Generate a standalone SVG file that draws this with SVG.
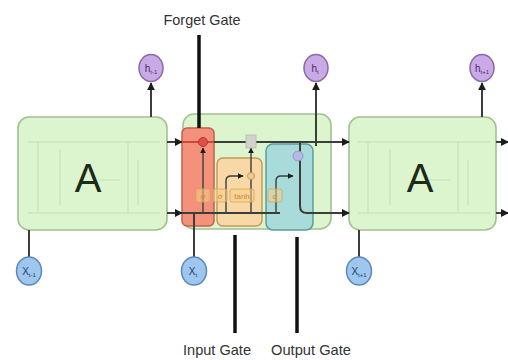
<svg xmlns="http://www.w3.org/2000/svg" width="508" height="360" viewBox="0 0 508 360">
<style>
.cell{fill:#dcf5cf;stroke:#a3c093;stroke-width:1.6}
.ghost{fill:none;stroke:#c3ddb4;stroke-width:1}
.bigA{font-family:"Liberation Sans",Arial,sans-serif;font-size:40px;fill:#1d2a1a;text-anchor:middle}
.lbl{font-family:"Liberation Sans",Arial,sans-serif;font-size:15px;fill:#333;text-anchor:middle}
.hc{fill:#c9aae6;stroke:#8a6aa8;stroke-width:1.5}
.xc{fill:#9ec6ee;stroke:#5b89ba;stroke-width:1.5}
.sym{font-family:"Liberation Sans",Arial,sans-serif;font-size:10px;text-anchor:middle}
.line{fill:none;stroke:#3a3f3a;stroke-width:2}
.thin{fill:none;stroke:#3a3f3a;stroke-width:1.4}
.thick{fill:none;stroke:#111;stroke-width:3.5}
.sg{fill:#f6cf86;fill-opacity:0.55;stroke:#d9a45a;stroke-width:0.8}
.sgt{font-family:"Liberation Sans",Arial,sans-serif;font-size:8px;fill:#d4862f;text-anchor:middle}
</style>
<defs>
<marker id="ah" viewBox="0 0 10 10" refX="9" refY="5" markerWidth="8" markerHeight="8" markerUnits="userSpaceOnUse" orient="auto"><path d="M0,0 L10,5 L0,10 z" fill="#1c1c1c"/></marker>
<marker id="ahs" viewBox="0 0 10 10" refX="9" refY="5" markerWidth="6" markerHeight="6" markerUnits="userSpaceOnUse" orient="auto"><path d="M0,0 L10,5 L0,10 z" fill="#1c1c1c"/></marker>
</defs>
<rect width="508" height="360" fill="#ffffff"/>

<g id="cell-prev">
<rect class="cell" x="18" y="117" width="149" height="113" rx="11"/>
<path class="ghost" d="M28,142 H160 M38,142 V213 M28,213 H160 M128,142 V213 M138,160 V205 M60,150 V205 M100,180 H120"/>
<text class="bigA" x="88" y="192">A</text>
</g>

<g id="cell-cur">
<rect class="cell" x="183" y="114" width="148" height="115" rx="11"/>
</g>

<g id="cell-next">
<rect class="cell" x="349" y="117" width="147" height="113" rx="11"/>
<path class="ghost" d="M358,142 H490 M368,142 V213 M358,213 H490 M458,142 V213 M468,160 V205 M390,150 V205 M430,180 H450"/>
<text class="bigA" x="420" y="192">A</text>
</g>

<g id="gate-forget">
<rect x="182" y="128" width="32" height="98" rx="5" fill="#f4917a" stroke="#c0604c" stroke-width="1.5"/>
</g>
<g id="gate-input">
<rect x="217" y="158" width="45" height="68" rx="6" fill="#f8d8a6" stroke="#c39a5c" stroke-width="1.5"/>
</g>
<g id="gate-output">
<rect x="266" y="144" width="47" height="86" rx="7" fill="#a9dbdb" stroke="#5c9aa1" stroke-width="1.5"/>
</g>

<g id="connectors">
<!-- cell state / hidden lines between cells -->
<line class="line" x1="167" y1="142" x2="182" y2="142" marker-end="url(#ah)"/>
<line class="line" x1="167" y1="213" x2="182" y2="213" marker-end="url(#ah)"/>
<line class="line" x1="182" y1="142" x2="349" y2="142" marker-end="url(#ah)"/>
<line class="line" x1="182" y1="213" x2="280" y2="213"/>
<path class="line" d="M300,142 V206 Q300,213 307,213 H349" marker-end="url(#ah)"/>
<line class="line" x1="496" y1="142" x2="508" y2="142" marker-end="url(#ah)"/>
<line class="line" x1="496" y1="213" x2="508" y2="213" marker-end="url(#ah)"/>
<!-- internal gate paths -->
<line x1="182" y1="142" x2="214" y2="142" stroke="#c84a3a" stroke-width="2"/>
<line class="thin" x1="203" y1="213" x2="203" y2="148" marker-end="url(#ahs)"/>
<line class="thin" x1="251" y1="213" x2="251" y2="148" marker-end="url(#ahs)"/>
<path class="thin" d="M226,213 V181 Q226,176 231,176 H243" marker-end="url(#ahs)"/>
<path class="thin" d="M276,213 V181 Q276,176 281,176 H293" marker-end="url(#ahs)"/>
<!-- outputs to h -->
<line class="line" x1="151" y1="117" x2="151" y2="83" marker-end="url(#ah)"/>
<line class="line" x1="316" y1="146" x2="316" y2="83" marker-end="url(#ah)"/>
<line class="line" x1="482" y1="117" x2="482" y2="83" marker-end="url(#ah)"/>
<!-- inputs from x -->
<line class="line" x1="29" y1="257" x2="29" y2="230"/>
<line class="line" x1="194" y1="257" x2="194" y2="213"/>
<line class="line" x1="359" y1="257" x2="359" y2="230"/>
<!-- gate label pointers -->
<line class="thick" x1="199" y1="35" x2="199" y2="128"/>
<line class="thick" x1="235" y1="235" x2="235" y2="333"/>
<line class="thick" x1="297" y1="237" x2="297" y2="333"/>
</g>

<g id="ops">
<circle cx="203" cy="142" r="4.5" fill="#e0504a" stroke="#b03a30" stroke-width="1"/>
<rect x="246" y="135" width="10" height="13" fill="#d2d2cc" stroke="#b8b8b0" stroke-width="0.8"/>
<circle cx="251" cy="176" r="3.5" fill="#f0c890" stroke="#b89060" stroke-width="0.8"/>
<circle cx="298" cy="156" r="5" fill="#b4b8e2" stroke="#8c90c0" stroke-width="0.8"/>
</g>

<g id="layers">
<rect class="sg" x="196" y="189" width="14" height="13" rx="2"/><text class="sgt" x="203" y="199">σ</text>
<rect class="sg" x="213" y="189" width="14" height="13" rx="2"/><text class="sgt" x="220" y="199">σ</text>
<rect class="sg" x="230" y="189" width="24" height="13" rx="2"/><text class="sgt" x="242" y="199">tanh</text>
<rect class="sg" x="268" y="189" width="14" height="13" rx="2"/><text class="sgt" x="275" y="199">σ</text>
</g>

<g id="h-prev"><ellipse class="hc" cx="151" cy="68" rx="12" ry="13.5"/><text class="sym" x="151" y="72" fill="#4a2a6a">h<tspan font-size="6" dy="2">t-1</tspan></text></g>
<g id="h-cur"><ellipse class="hc" cx="316" cy="68" rx="12" ry="13.5"/><text class="sym" x="315" y="72" fill="#4a2a6a">h<tspan font-size="6" dy="2">t</tspan></text></g>
<g id="h-next"><ellipse class="hc" cx="482" cy="68" rx="12" ry="13.5"/><text class="sym" x="482" y="72" fill="#4a2a6a">h<tspan font-size="6" dy="2">t+1</tspan></text></g>

<g id="x-prev"><ellipse class="xc" cx="29" cy="271" rx="12.5" ry="14"/><text class="sym" x="29" y="275" fill="#1d3d6a">X<tspan font-size="6" dy="2">t-1</tspan></text></g>
<g id="x-cur"><ellipse class="xc" cx="194" cy="271" rx="12.5" ry="14"/><text class="sym" x="193" y="275" fill="#1d3d6a">X<tspan font-size="6" dy="2">t</tspan></text></g>
<g id="x-next"><ellipse class="xc" cx="359" cy="271" rx="12.5" ry="14"/><text class="sym" x="359" y="275" fill="#1d3d6a">X<tspan font-size="6" dy="2">t+1</tspan></text></g>

<g id="labels">
<text class="lbl" x="202" y="25" textLength="77" lengthAdjust="spacingAndGlyphs">Forget Gate</text>
<text class="lbl" x="217" y="355" textLength="68" lengthAdjust="spacingAndGlyphs">Input Gate</text>
<text class="lbl" x="311" y="355" textLength="80" lengthAdjust="spacingAndGlyphs">Output Gate</text>
</g>
</svg>
